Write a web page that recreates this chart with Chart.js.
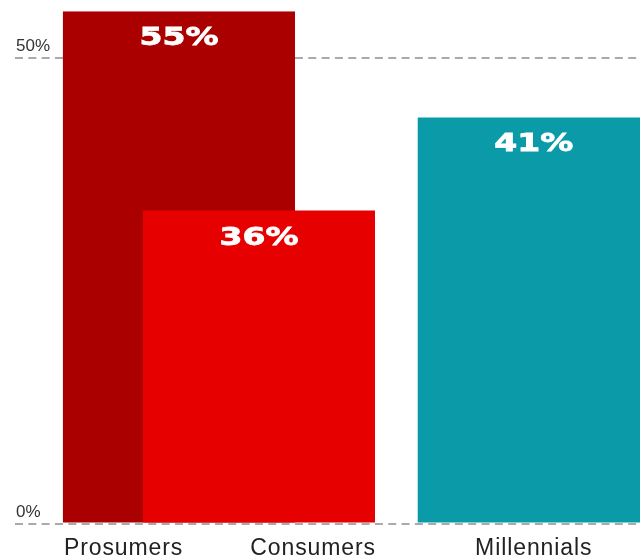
<!DOCTYPE html>
<html>
<head>
<meta charset="utf-8">
<script src="https://cdn.jsdelivr.net/npm/chart.js@4"></script>
<style>
  html, body { margin: 0; padding: 0; background: #fff; }
  #wrap { width: 640px; height: 558px; }
</style>
</head>
<body>
<div id="wrap"><canvas id="chart"></canvas></div>
<script>
const categories = ['Prosumers', 'Consumers', 'Millennials'];
const barHeights = [55, 33.6, 43.6];
const valueLabels = ['55%', '36%', '41%'];
const yTicks = [0, 50];

// Estilo / layout
const barColors = ['#ab0000', '#e60000', '#0a9aa8'];
const barShift = [0.287, -0.329, -0.01];
const labelAlign = ['left', 'right', 'center'];

// desloca as barras dentro da categoria (Prosumers/Consumers sobrepostas)
const barLayout = {
  id: 'barLayout',
  afterDatasetsUpdate(chart) {
    const x = chart.scales.x;
    const step = (x.right - x.left) / categories.length;
    chart.getDatasetMeta(0).data.forEach((bar, i) => {
      bar.x = x.getPixelForValue(i) + barShift[i] * step;
    });
  },
};

// rótulos de valor e nomes das categorias
const barText = {
  id: 'barText',
  afterDatasetsDraw(chart) {
    const { ctx } = chart;
    const bottom = chart.chartArea.bottom;
    chart.getDatasetMeta(0).data.forEach((bar, i) => {
      ctx.save();
      ctx.fillStyle = '#fff';
      ctx.strokeStyle = '#fff';
      ctx.lineWidth = 0.8;
      ctx.font = 'bold 25px "DejaVu Sans"';
      ctx.textAlign = 'center';
      ctx.textBaseline = 'middle';
      ctx.translate(bar.x, bar.y + 27.5);
      ctx.scale(1.32, 1);
      ctx.fillText(valueLabels[i], 0, 0);
      ctx.strokeText(valueLabels[i], 0, 0);
      ctx.restore();

      ctx.save();
      ctx.fillStyle = '#222';
      ctx.font = '23px "Liberation Sans", Arial, sans-serif';
      ctx.letterSpacing = '0.9px';
      ctx.textBaseline = 'alphabetic';
      ctx.textAlign = labelAlign[i];
      const half = bar.width / 2;
      let tx = bar.x;
      if (labelAlign[i] === 'left') tx = bar.x - half + 1;
      if (labelAlign[i] === 'right') tx = bar.x + half + 1;
      ctx.fillText(categories[i], tx, bottom + 31.5);
      ctx.restore();
    });
  },
};

new Chart(document.getElementById('chart'), {
  type: 'bar',
  data: {
    labels: categories,
    datasets: [{
      data: barHeights,
      backgroundColor: barColors,
      borderWidth: 0,
      categoryPercentage: 1,
      barPercentage: 1.114,
    }],
  },
  options: {
    responsive: true,
    maintainAspectRatio: false,
    animation: false,
    layout: { padding: { left: 13, top: 11, right: 0, bottom: 34.5 } },
    plugins: { legend: { display: false }, tooltip: { enabled: false } },
    scales: {
      x: { display: false },
      y: {
        min: 0,
        max: 55,
        afterBuildTicks: (s) => { s.ticks = yTicks.map((v) => ({ value: v })); },
        grid: {
          color: '#aaaaaa',
          lineWidth: 2,
          drawTicks: false,
        },
        border: { display: false, dash: [8, 5.33] },
        ticks: {
          mirror: true,
          padding: 1,
          labelOffset: -11,
          color: '#333',
          font: { family: '"Liberation Sans", Arial, sans-serif', size: 17 },
          callback: (v) => v + '%',
        },
      },
    },
  },
  plugins: [barLayout, barText],
});
</script>
</body>
</html>
